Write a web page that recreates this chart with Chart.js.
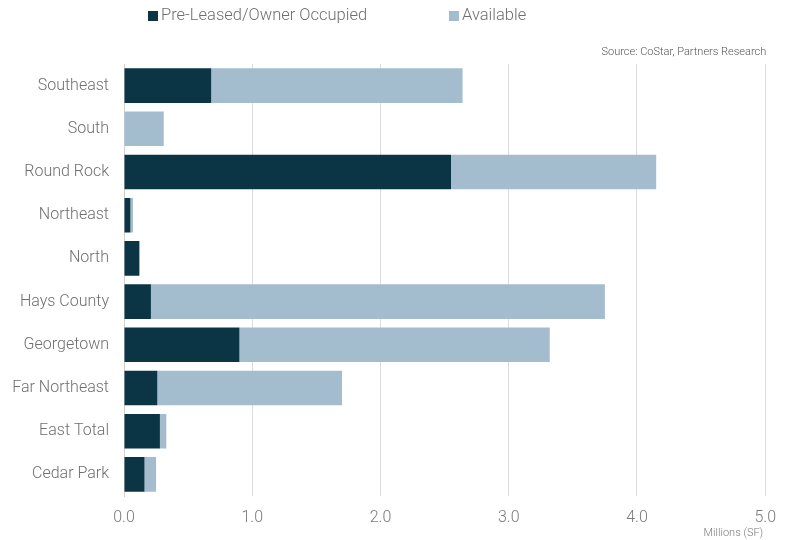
<!DOCTYPE html>
<html>
<head>
<meta charset="utf-8">
<style>
  html, body { margin: 0; padding: 0; background: #fff; }
  #wrap { width: 788px; height: 540px; }
</style>
<script src="https://cdn.jsdelivr.net/npm/chart.js@4/dist/chart.umd.min.js"></script>
</head>
<body>
<div id="wrap"><canvas id="myChart" width="788" height="540"></canvas></div>
<script>
// Data (millions of SF)
const regions = ['Southeast', 'South', 'Round Rock', 'Northeast', 'North', 'Hays County', 'Georgetown', 'Far Northeast', 'East Total', 'Cedar Park'];
const preLeased = [0.68, 0, 2.55, 0.05, 0.12, 0.21, 0.90, 0.26, 0.28, 0.16];
const available = [1.96, 0.31, 1.60, 0.02, 0, 3.54, 2.42, 1.44, 0.05, 0.09];
const xTicks = [0, 1, 2, 3, 4, 5];

const darkColor = '#0b3545';
const lightColor = '#a3bdcf';
const textColor = '#7a7a7a';
const fontFamily = 'Roboto, "Liberation Sans", sans-serif';

// Legend + source + unit notes
const notesPlugin = {
  id: 'notes',
  afterDraw(chart) {
    const c = chart.ctx;
    const area = chart.chartArea;
    c.save();
    c.textBaseline = 'middle';
    c.font = '300 16.5px ' + fontFamily;
    const items = [
      { x: 148, label: chart.data.datasets[0].label, color: darkColor },
      { x: 449, label: chart.data.datasets[1].label, color: lightColor }
    ];
    items.forEach(item => {
      c.fillStyle = item.color;
      c.fillRect(item.x, 11, 10, 10);
      c.fillStyle = '#6f6f6f';
      c.textAlign = 'left';
      c.fillText(item.label, item.x + 13, 16);
    });
    c.font = '300 11px ' + fontFamily;
    c.fillStyle = '#555';
    c.textAlign = 'right';
    c.fillText('Source: CoStar, Partners Research', area.right + 1, 52);
    c.fillStyle = textColor;
    c.fillText('Millions (SF)', area.right - 2, 533);
    c.restore();
  }
};

const ctx = document.getElementById('myChart').getContext('2d');

const myChart = new Chart(ctx, {
  type: 'bar',
  data: {
    labels: regions,
    datasets: [{
      label: 'Pre-Leased/Owner Occupied',
      data: preLeased,
      backgroundColor: darkColor,
      categoryPercentage: 0.8,
      barPercentage: 1
    }, {
      label: 'Available',
      data: available,
      backgroundColor: lightColor,
      categoryPercentage: 0.8,
      barPercentage: 1
    }]
  },
  options: {
    indexAxis: 'y',
    responsive: false,
    animation: false,
    layout: {
      padding: { left: 0, right: 22, top: 64, bottom: 0 }
    },
    plugins: {
      legend: { display: false },
      tooltip: { enabled: false }
    },
    scales: {
      x: {
        stacked: true,
        min: 0,
        max: 5,
        afterFit(scale) { scale.height = 44; },
        afterBuildTicks(scale) { scale.ticks = xTicks.map(v => ({ value: v })); },
        grid: {
          color: '#dcdcdc',
          drawTicks: false
        },
        border: { display: false },
        ticks: {
          padding: 12,
          color: textColor,
          font: { family: fontFamily, size: 16, weight: '300' },
          callback: v => Number(v).toFixed(1)
        }
      },
      y: {
        stacked: true,
        afterFit(scale) { scale.width = 124; },
        grid: { display: false, drawTicks: false },
        border: { display: true, color: '#cfcfcf', width: 1 },
        ticks: {
          padding: 15,
          color: '#6f6f6f',
          font: { family: fontFamily, size: 16, weight: '300' }
        }
      }
    }
  },
  plugins: [notesPlugin]
});
</script>
</body>
</html>
